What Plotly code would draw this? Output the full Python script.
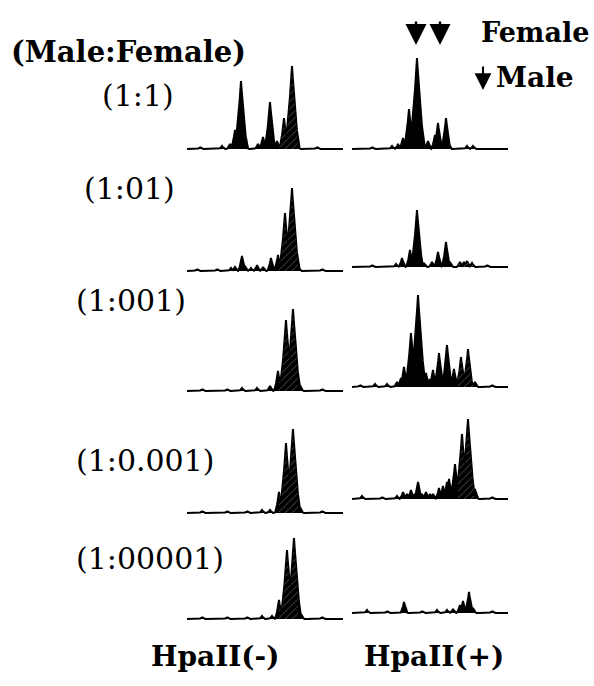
import numpy as np
import plotly.graph_objects as go

W, H = 594, 686

# ---------------- data ----------------
ratio_labels = ["(1:1)", "(1:01)", "(1:001)", "(1:0.001)", "(1:00001)"]
column_labels = ["HpaII(-)", "HpaII(+)"]
legend_labels = ["Female", "Male"]

# peak positions (migration units) and heights (signal units)
r1_minus_pos = [13, 35, 43, 48, 54, 58, 71, 76, 80, 83, 86, 90, 97, 105, 110, 130]
r1_minus_h = [2, 3, 5, 19, 68, 10, 5, 12, 8, 47, 8, 8, 31, 83, 6, 2]
r1_plus_pos = [20, 40, 46, 51, 57, 65, 69, 76, 83, 86, 94, 96, 115, 121]
r1_plus_h = [2, 3, 5, 11, 40, 91, 12, 8, 14, 26, 31, 10, 3, 3]

r2_minus_pos = [10, 30, 44, 48, 55, 58, 64, 70, 76, 84, 86, 91, 98, 105, 111, 135]
r2_minus_h = [2, 2, 3, 4, 15, 5, 3, 6, 4, 13, 4, 16, 58, 83, 6, 2]
r2_plus_pos = [20, 44, 50, 58, 61, 65, 72, 80, 86, 94, 98, 108, 112, 115, 120, 135]
r2_plus_h = [2, 3, 9, 17, 6, 57, 4, 5, 15, 25, 5, 5, 5, 6, 4, 2]

r3_minus_pos = [15, 40, 55, 70, 83, 91, 99, 106, 113, 135]
r3_minus_h = [2, 2, 3, 3, 5, 20, 71, 82, 6, 2]
r3_plus_pos = [8, 23, 35, 45, 49, 52, 59, 63, 66, 70, 74, 78, 81, 87, 91, 95, 99, 102, 109, 116, 123, 140]
r3_plus_h = [2, 3, 3, 5, 9, 20, 54, 12, 92, 10, 14, 8, 17, 34, 8, 42, 8, 18, 30, 38, 5, 2]

r4_minus_pos = [15, 40, 60, 75, 83, 92, 99, 106, 113, 135]
r4_minus_h = [2, 2, 2, 3, 3, 21, 70, 84, 6, 2]
r4_plus_pos = [10, 30, 45, 51, 55, 59, 63, 66, 70, 74, 78, 81, 87, 91, 95, 97, 103, 110, 116, 123, 140]
r4_plus_h = [3, 2, 3, 7, 5, 9, 5, 17, 5, 7, 5, 5, 11, 13, 17, 20, 35, 65, 80, 10, 2]

r5_minus_pos = [15, 40, 60, 75, 85, 92, 100, 107, 114, 135]
r5_minus_h = [2, 2, 2, 3, 3, 19, 69, 81, 5, 2]
r5_plus_pos = [15, 35, 52, 70, 85, 95, 101, 108, 111, 117, 121, 140]
r5_plus_h = [3, 2, 11, 2, 3, 3, 4, 8, 12, 21, 5, 2]

panels = [
    [(r1_minus_pos, r1_minus_h), (r1_plus_pos, r1_plus_h)],
    [(r2_minus_pos, r2_minus_h), (r2_plus_pos, r2_plus_h)],
    [(r3_minus_pos, r3_minus_h), (r3_plus_pos, r3_plus_h)],
    [(r4_minus_pos, r4_minus_h), (r4_plus_pos, r4_plus_h)],
    [(r5_minus_pos, r5_minus_h), (r5_plus_pos, r5_plus_h)],
]

# highlighted (hatched) product window per column, migration units
hatch_window = [(92, 111), (106, 122)]
hatch_rows = [[True] * 5, [False, True, True, True, False]]

# arrows marking the female / male products (migration units, HpaII(+) lane)
female_arrow_pos = [64, 88]

# ---------------- layout geometry (pixels) ----------------
col_x0 = [187, 352]
trace_len = 156
baselines = [[149, 149], [271, 267], [391, 387], [513, 499], [619, 613]]
label_y = [95, 188, 300, 460, 558]
label_x = [100, 82, 74, 74, 74]

grid = np.arange(0, trace_len + 0.001, 0.25)


def profile(pos, hts):
    y = np.zeros_like(grid)
    for p, h in zip(pos, hts):
        w = 3.2 + 0.06 * h
        d = np.clip(1 - np.abs(grid - p) / w, 0, None)
        y = np.maximum(y, h * d ** 1.6)
    return y


fig = go.Figure()
layout_axes = {}
serif = "DejaVu Serif"

for r in range(5):
    for c in range(2):
        k = 2 * r + c + 1
        xs = "x" if k == 1 else f"x{k}"
        ys = "y" if k == 1 else f"y{k}"
        pos, hts = panels[r][c]
        y = profile(pos, hts)
        fig.add_trace(go.Scatter(
            x=grid, y=y, mode="lines", line=dict(color="black", width=2),
            fill="tozeroy", fillcolor="black", xaxis=xs, yaxis=ys,
            showlegend=False, hoverinfo="skip"))
        if hatch_rows[c][r]:
            a, b = hatch_window[c]
            m = (grid >= a) & (grid <= b)
            fig.add_trace(go.Scatter(
                x=grid[m], y=y[m] * 0.97, mode="lines", line=dict(width=0),
                fill="tozeroy", fillcolor="black",
                fillpattern=dict(shape="/", bgcolor="black", fgcolor="white",
                                 size=5, solidity=0.12),
                xaxis=xs, yaxis=ys, showlegend=False, hoverinfo="skip"))
        b = baselines[r][c]
        x0 = col_x0[c]
        xn = "xaxis" if k == 1 else f"xaxis{k}"
        yn = "yaxis" if k == 1 else f"yaxis{k}"
        layout_axes[xn] = dict(domain=[x0 / W, (x0 + trace_len) / W], range=[0, trace_len],
                               visible=False, anchor=ys, fixedrange=True)
        layout_axes[yn] = dict(domain=[(H - (b + 4)) / H, (H - (b - 100)) / H], range=[-4, 100],
                               visible=False, anchor=xs, fixedrange=True)

annotations = []
annotations.append(dict(text="<b>(Male:Female)</b>", x=128 / W, y=(H - 52) / H, xref="paper", yref="paper",
                        showarrow=False, font=dict(family=serif, size=29, color="black"),
                        xanchor="center", yanchor="middle"))
for i, lab in enumerate(ratio_labels):
    annotations.append(dict(text=lab, x=label_x[i] / W, y=(H - label_y[i]) / H, xref="paper", yref="paper",
                            showarrow=False, font=dict(family=serif, size=30, color="black"),
                            xanchor="left", yanchor="middle"))
col_cx = [215, 434]
for i, lab in enumerate(column_labels):
    annotations.append(dict(text=f"<b>{lab}</b>", x=col_cx[i] / W, y=(H - 656) / H, xref="paper", yref="paper",
                            showarrow=False, font=dict(family=serif, size=28, color="black"),
                            xanchor="center", yanchor="middle"))
annotations.append(dict(text=f"<b>{legend_labels[0]}</b>", x=479 / W, y=(H - 33) / H, xref="paper", yref="paper",
                        showarrow=False, font=dict(family=serif, size=27, color="black"),
                        xanchor="left", yanchor="middle"))
annotations.append(dict(text=f"<b>{legend_labels[1]}</b>", x=494 / W, y=(H - 78) / H, xref="paper", yref="paper",
                        showarrow=False, font=dict(family=serif, size=28, color="black"),
                        xanchor="left", yanchor="middle"))
for p in female_arrow_pos:
    annotations.append(dict(text="", x=p, y=(H - 45) / H, xref="x2", yref="paper",
                            showarrow=True, ax=0, ay=-25, arrowhead=2, arrowsize=1.75,
                            arrowwidth=2.4, arrowcolor="black"))
annotations.append(dict(text="", x=483 / W, y=(H - 90) / H, xref="paper", yref="paper",
                        showarrow=True, ax=0, ay=-25, arrowhead=2, arrowsize=1.6,
                        arrowwidth=2.1, arrowcolor="black"))

fig.update_layout(width=W, height=H, margin=dict(l=0, r=0, t=0, b=0),
                  paper_bgcolor="white", plot_bgcolor="white",
                  annotations=annotations, **layout_axes)
fig.write_html("out.html")
